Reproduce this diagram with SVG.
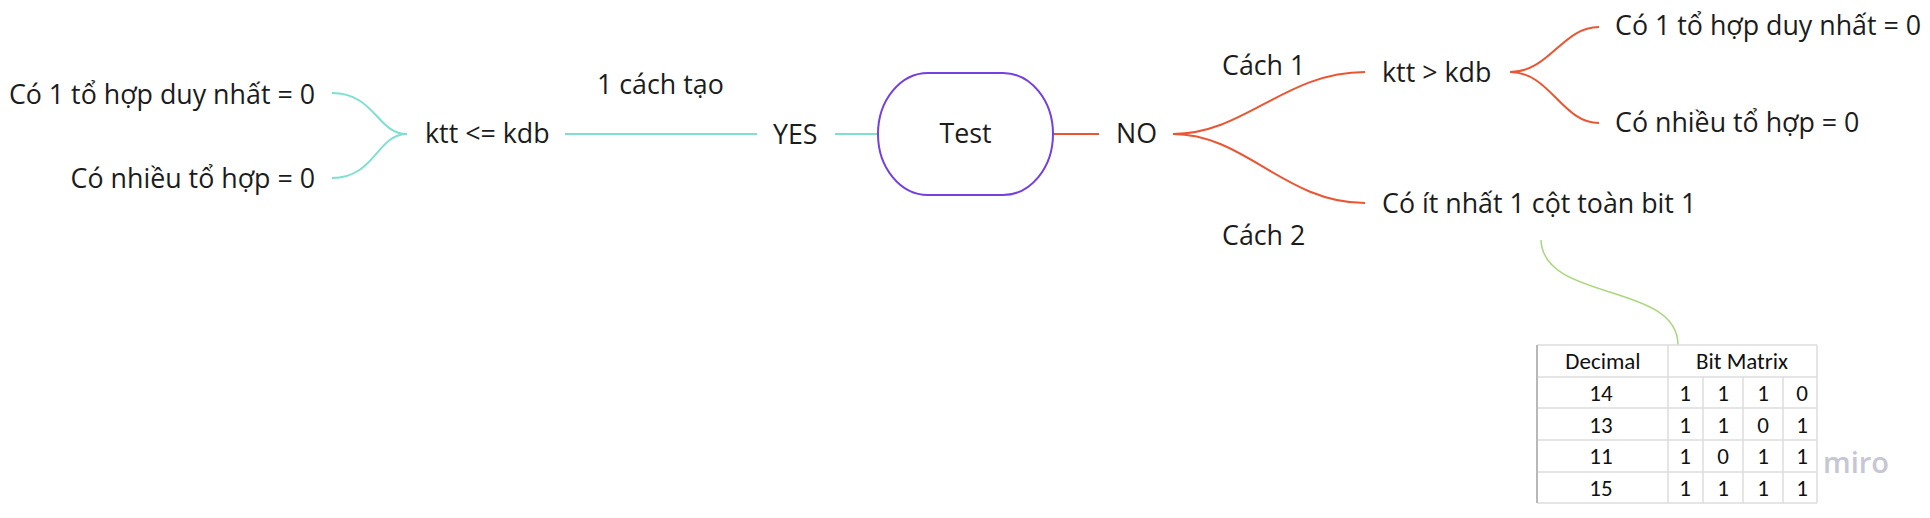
<svg xmlns="http://www.w3.org/2000/svg" width="1930" height="518" viewBox="0 0 1930 518">
<style>
.t{font-family:"Open Sans","Noto Sans","DejaVu Sans",sans-serif;font-size:26.8px;fill:#1c1c1c}
.m{text-anchor:end}
.c{text-anchor:middle}
.cy{fill:none;stroke:#7fe0d0;stroke-width:2}
.rd{fill:none;stroke:#ea5634;stroke-width:2}
.gr{fill:none;stroke:#a9d77e;stroke-width:1.5}
.tb{font-family:"Carlito","Open Sans","Noto Sans",sans-serif;font-size:23px;fill:#111;text-anchor:middle}
.gl{stroke:#dcdcdc;stroke-width:1.5}
</style>
<rect width="1930" height="518" fill="#ffffff"/>
<g id="connectors">
<path class="cy" d="M332,93 C375,93 377,134 407,134"/>
<path class="cy" d="M332,178 C375,178 377,134 407,134"/>
<path class="cy" d="M565,134 L757,134"/>
<path class="cy" d="M835,134 L878,134"/>
<path class="rd" d="M1053,134 L1099,134"/>
<path class="rd" d="M1173,134 C1245,134 1285,72 1365,72"/>
<path class="rd" d="M1173,134 C1245,134 1285,203 1365,203"/>
<path class="rd" d="M1510,72 C1550,72 1562,27 1599,27"/>
<path class="rd" d="M1510,72 C1550,72 1562,123 1599,123"/>
<path class="gr" d="M1541,240 C1543,302 1678,282 1678,345"/>
</g>
<g id="left-unique"><text class="t m" x="315" y="104">Có 1 tổ hợp duy nhất = 0</text></g>
<g id="left-many"><text class="t m" x="315" y="188">Có nhiều tổ hợp = 0</text></g>
<g id="ktt-le-kdb"><text class="t" x="425" y="143">ktt &lt;= kdb</text></g>
<g id="label-1-cach-tao"><text class="t" x="597" y="94">1 cách tạo</text></g>
<g id="yes"><text class="t" x="773" y="144">YES</text></g>
<g id="test">
<rect x="878" y="73" width="175" height="122" rx="50" ry="61" fill="#fff" stroke="#7440e2" stroke-width="2"/>
<text class="t c" x="965.5" y="143">Test</text>
</g>
<g id="no"><text class="t" x="1116" y="143">NO</text></g>
<g id="cach-1"><text class="t" x="1222" y="75">Cách 1</text></g>
<g id="cach-2"><text class="t" x="1222" y="245">Cách 2</text></g>
<g id="ktt-gt-kdb"><text class="t" x="1382" y="82">ktt &gt; kdb</text></g>
<g id="right-unique"><text class="t" x="1615" y="35">Có 1 tổ hợp duy nhất = 0</text></g>
<g id="right-many"><text class="t" x="1615" y="132">Có nhiều tổ hợp = 0</text></g>
<g id="column-all-ones"><text class="t" x="1382" y="213">Có ít nhất 1 cột toàn bit 1</text></g>
<g id="bit-matrix-table">
<rect x="1537" y="345" width="280" height="158" fill="#fff"/>
<line class="gl" x1="1537" y1="345" x2="1817" y2="345"/>
<line class="gl" x1="1537" y1="377" x2="1817" y2="377"/>
<line class="gl" x1="1537" y1="408" x2="1817" y2="408"/>
<line class="gl" x1="1537" y1="440" x2="1817" y2="440"/>
<line class="gl" x1="1537" y1="472" x2="1817" y2="472"/>
<line class="gl" x1="1537" y1="503" x2="1817" y2="503"/>
<line class="gl" x1="1668" y1="345" x2="1668" y2="503"/>
<line class="gl" x1="1703" y1="377" x2="1703" y2="503"/>
<line class="gl" x1="1743" y1="377" x2="1743" y2="503"/>
<line class="gl" x1="1783" y1="377" x2="1783" y2="503"/>
<line class="gl" x1="1817" y1="345" x2="1817" y2="503"/>
<line x1="1537" y1="345" x2="1537" y2="503" stroke="#b8b8b8" stroke-width="2"/>
<text class="tb" x="1603" y="369">Decimal</text>
<text class="tb" x="1742" y="369">Bit Matrix</text>
<text class="tb" x="1601" y="401">14</text>
<text class="tb" x="1685" y="401">1</text><text class="tb" x="1723" y="401">1</text><text class="tb" x="1763" y="401">1</text><text class="tb" x="1802" y="401">0</text>
<text class="tb" x="1601" y="433">13</text>
<text class="tb" x="1685" y="433">1</text><text class="tb" x="1723" y="433">1</text><text class="tb" x="1763" y="433">0</text><text class="tb" x="1802" y="433">1</text>
<text class="tb" x="1601" y="464">11</text>
<text class="tb" x="1685" y="464">1</text><text class="tb" x="1723" y="464">0</text><text class="tb" x="1763" y="464">1</text><text class="tb" x="1802" y="464">1</text>
<text class="tb" x="1601" y="496">15</text>
<text class="tb" x="1685" y="496">1</text><text class="tb" x="1723" y="496">1</text><text class="tb" x="1763" y="496">1</text><text class="tb" x="1802" y="496">1</text>
</g>
<g id="watermark"><text x="1823" y="473" font-family="Open Sans, Noto Sans, sans-serif" font-size="29" font-weight="600" fill="#c6c6d4">miro</text></g>
</svg>
